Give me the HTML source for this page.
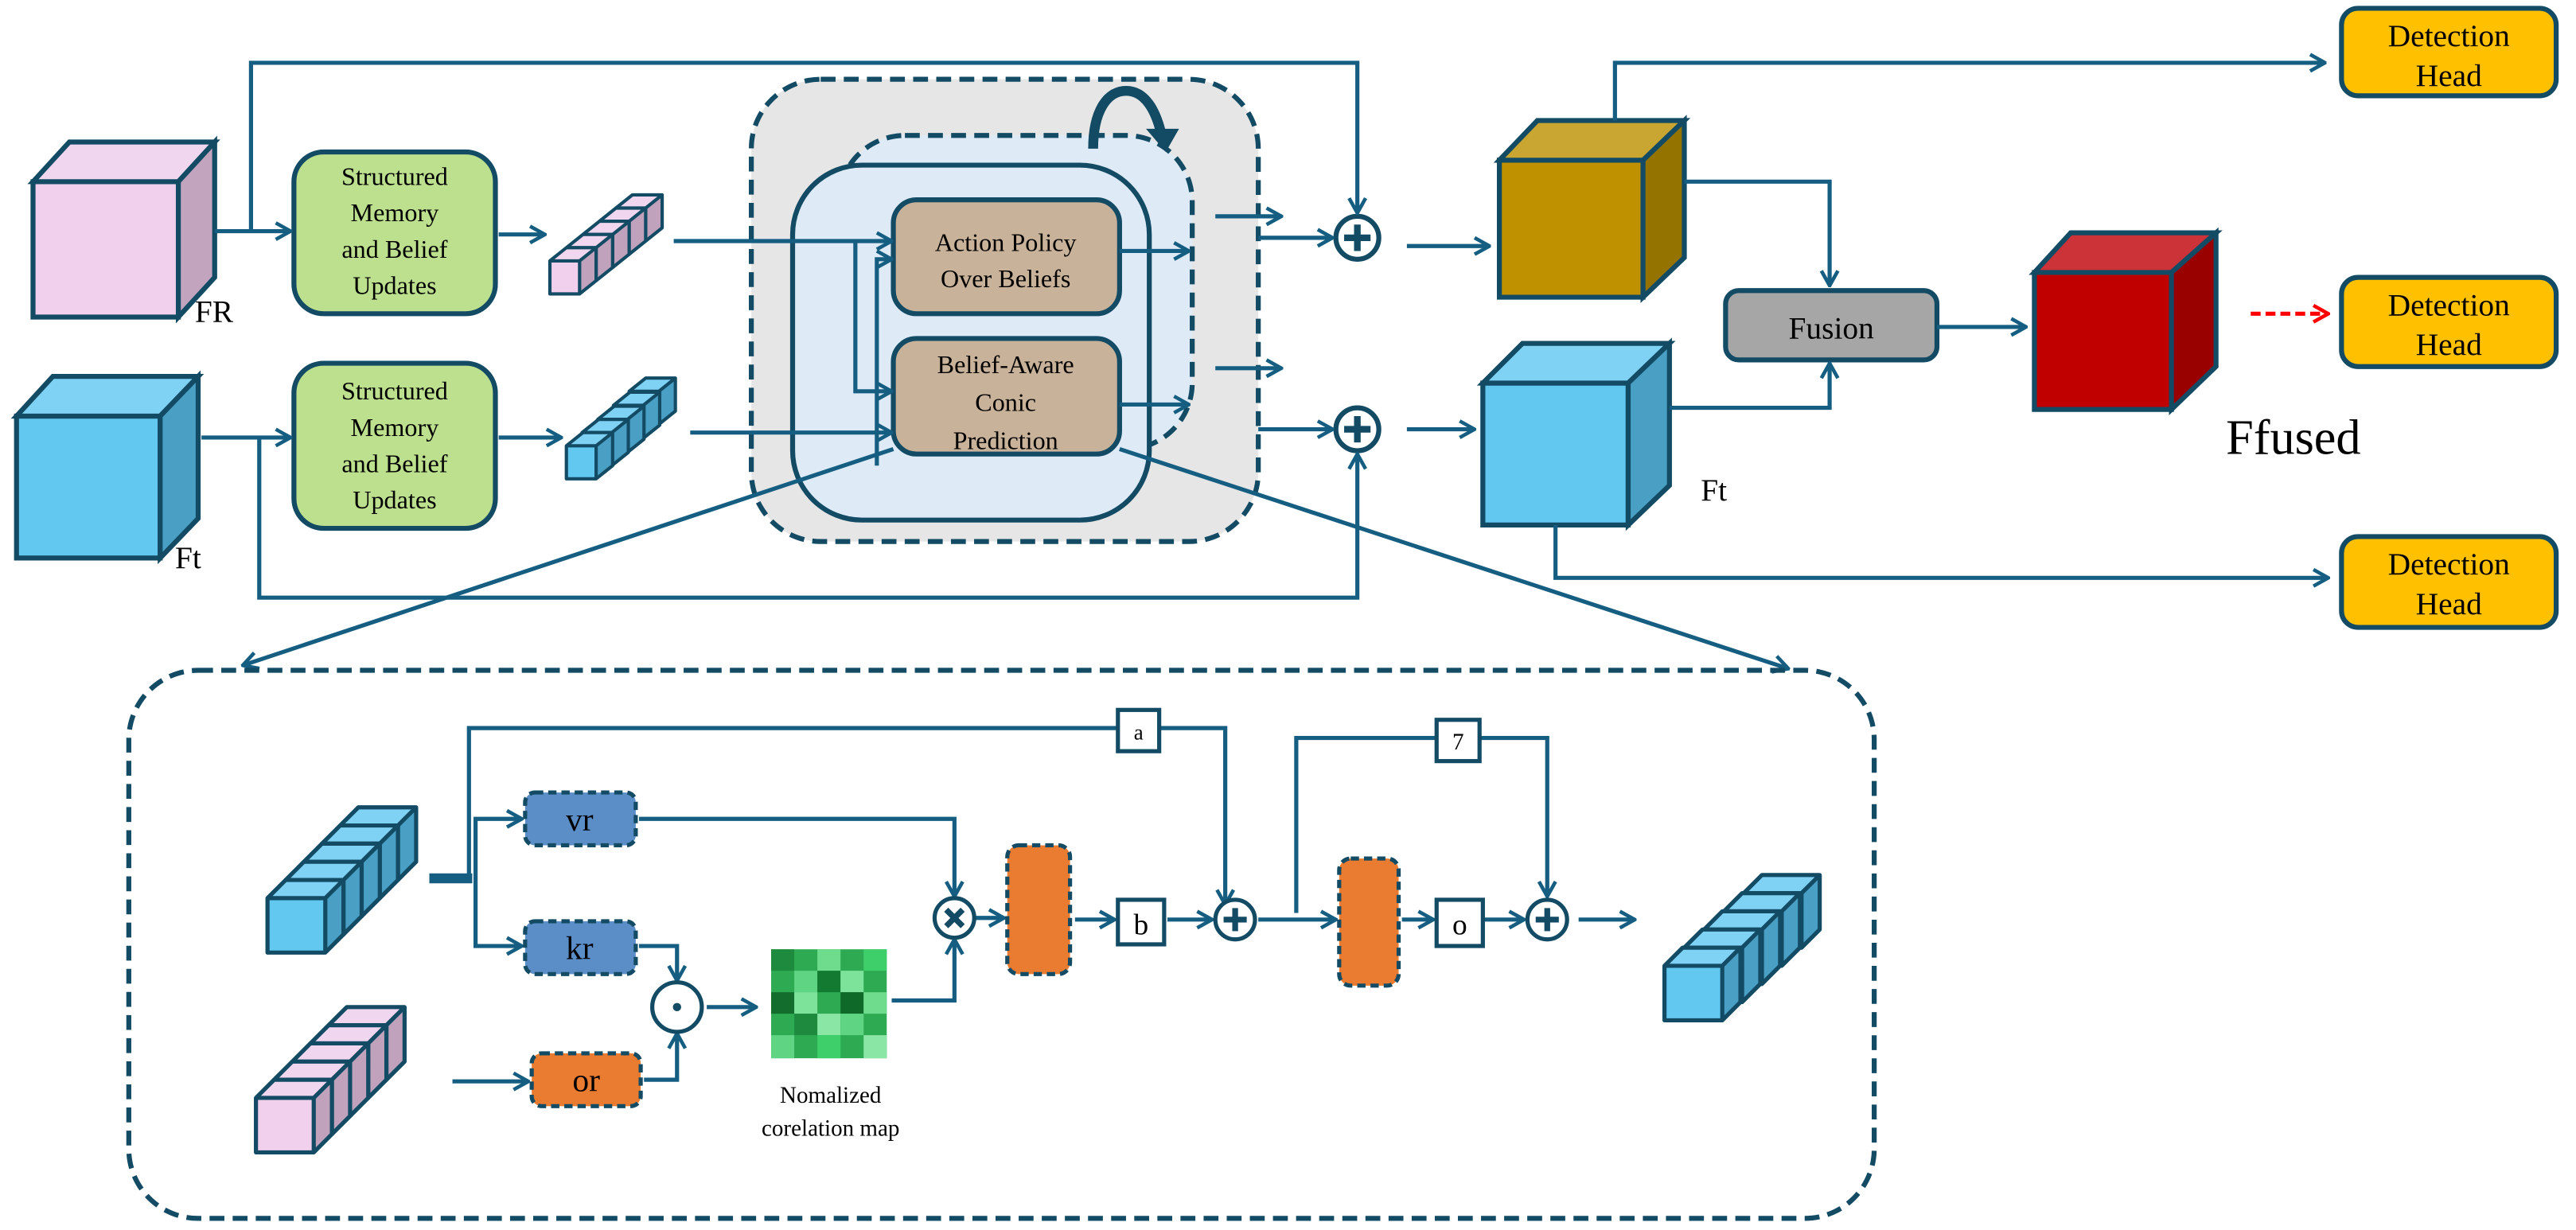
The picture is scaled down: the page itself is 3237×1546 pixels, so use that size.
<!DOCTYPE html>
<html><head><meta charset="utf-8"><style>
html,body{margin:0;padding:0;background:#fff}
svg{display:block}
text{font-family:"Liberation Serif","Times New Roman",serif;fill:#000}
</style></head><body>
<svg width="3237" height="1546" viewBox="0 0 1560 745" xmlns="http://www.w3.org/2000/svg" font-family="Liberation Serif, serif">
<defs>
<marker id="ar" viewBox="0 0 12 12" refX="11" refY="6" markerWidth="12" markerHeight="12" markerUnits="userSpaceOnUse" orient="auto">
<path d="M2,1 L11,6 L2,11" fill="none" stroke="#155e82" stroke-width="2.2"/></marker>
<marker id="arr" viewBox="0 0 12 12" refX="11" refY="6" markerWidth="12" markerHeight="12" markerUnits="userSpaceOnUse" orient="auto">
<path d="M2,1 L11,6 L2,11" fill="none" stroke="#f00" stroke-width="2.2"/></marker>
<g id="cb"><path d="M0,0 h35 v33 h-35z" fill="#62c8f0"/><path d="M0,0 l11,-11 h35 l-11,11z" fill="#80d2f4"/><path d="M35,0 l11,-11 v33 l-11,11z" fill="#4aa0c4"/><path d="M0,0 h35 v33 h-35z M0,0 l11,-11 h35 l-11,11 M35,33 l11,-11 v-33" fill="none" stroke="#134a64" stroke-width="2.5" stroke-linejoin="round"/></g>
<g id="cp"><path d="M0,0 h35 v33 h-35z" fill="#f0d0ec"/><path d="M0,0 l11,-11 h35 l-11,11z" fill="#f0d6ee"/><path d="M35,0 l11,-11 v33 l-11,11z" fill="#c0a2bd"/><path d="M0,0 h35 v33 h-35z M0,0 l11,-11 h35 l-11,11 M35,33 l11,-11 v-33" fill="none" stroke="#134a64" stroke-width="2.5" stroke-linejoin="round"/></g>
<g id="sb"><path d="M0,0 h18 v20 h-18z" fill="#62c8f0"/><path d="M0,0 l10,-8 h18 l-10,8z" fill="#80d2f4"/><path d="M18,0 l10,-8 v20 l-10,8z" fill="#4aa0c4"/><path d="M0,0 h18 v20 h-18z M0,0 l10,-8 h18 l-10,8 M18,20 l10,-8 v-20" fill="none" stroke="#134a64" stroke-width="2" stroke-linejoin="round"/></g>
<g id="sp"><path d="M0,0 h18 v20 h-18z" fill="#f0d0ec"/><path d="M0,0 l10,-8 h18 l-10,8z" fill="#f0d6ee"/><path d="M18,0 l10,-8 v20 l-10,8z" fill="#c0a2bd"/><path d="M0,0 h18 v20 h-18z M0,0 l10,-8 h18 l-10,8 M18,20 l10,-8 v-20" fill="none" stroke="#134a64" stroke-width="2" stroke-linejoin="round"/></g>
</defs>

<g stroke="#134a64" stroke-width="3" stroke-linejoin="miter">
<path d="M20,110 h88 v82 h-88z" fill="#f0d0ec"/><path d="M20,110 l22,-24 h88 l-22,24z" fill="#f0d6ee"/><path d="M108,110 l22,-24 v82 l-22,24z" fill="#c2a4be"/>
<path d="M10,252 h87 v86 h-87z" fill="#62c8f0"/><path d="M10,252 l22,-24 h88 l-23,24z" fill="#80d2f4"/><path d="M97,252 l23,-24 v86 l-23,24z" fill="#4aa0c4"/>
<path d="M908,97 h87 v83 h-87z" fill="#bf9000"/><path d="M908,97 l23,-24 h89 l-25,24z" fill="#c9a532"/><path d="M995,97 l25,-24 v83 l-25,24z" fill="#957300"/>
<path d="M898,232 h88 v86 h-88z" fill="#62c8f0"/><path d="M898,232 l24,-24 h89 l-25,24z" fill="#80d2f4"/><path d="M986,232 l25,-24 v86 l-25,24z" fill="#4aa0c4"/>
<path d="M1232,165 h83 v83 h-83z" fill="#c00000"/><path d="M1232,165 l22,-24 h88 l-27,24z" fill="#cc3338"/><path d="M1315,165 l27,-24 v81 l-27,26z" fill="#990000"/>
</g>
<text x="118" y="195" font-size="19">FR</text>
<text x="106" y="344" font-size="19">Ft</text>
<text x="1030" y="303" font-size="19">Ft</text>
<text x="1348" y="275" font-size="30">Ffused</text>

<g stroke="#134a64" stroke-width="3" fill="#bde08e">
<rect x="178" y="92" width="122" height="98" rx="18"/>
<rect x="178" y="220" width="122" height="100" rx="18"/>
</g>
<g font-size="15.5" text-anchor="middle">
<text x="239" y="112">Structured</text><text x="239" y="134">Memory</text><text x="239" y="156">and Belief</text><text x="239" y="178">Updates</text>
<text x="239" y="242">Structured</text><text x="239" y="264">Memory</text><text x="239" y="286">and Belief</text><text x="239" y="308">Updates</text>
</g>

<use href="#sp" x="373" y="126"/><use href="#sp" x="363" y="134"/><use href="#sp" x="353" y="142"/><use href="#sp" x="343" y="150"/><use href="#sp" x="333" y="158"/>
<use href="#sb" x="381" y="237"/><use href="#sb" x="371.5" y="245.5"/><use href="#sb" x="362" y="254"/><use href="#sb" x="352.5" y="262"/><use href="#sb" x="343" y="270"/>

<rect x="455" y="48" width="307" height="280" rx="42" fill="#e6e6e6" stroke="#134a64" stroke-width="3" stroke-dasharray="9,5"/>
<rect x="508" y="82" width="214" height="190" rx="40" fill="#deebf7" stroke="#134a64" stroke-width="3" stroke-dasharray="9,5"/>
<rect x="480" y="100" width="216" height="215" rx="42" fill="#deebf7" stroke="#134a64" stroke-width="3"/>
<path d="M662,90 C662,68 670,55 682,55 C694,55 700,68 703,80" fill="none" stroke="#134a64" stroke-width="6"/>
<path d="M694,78 L714,78 L706,92z" fill="#134a64"/>
<g stroke="#134a64" stroke-width="3" fill="#c9b29a">
<rect x="541" y="121" width="137" height="69" rx="14"/>
<rect x="541" y="205" width="137" height="70" rx="14"/>
</g>
<g font-size="15.5" text-anchor="middle">
<text x="609" y="152">Action Policy</text><text x="609" y="174">Over Beliefs</text>
<text x="609" y="226">Belief-Aware</text><text x="609" y="249">Conic</text><text x="609" y="272">Prediction</text>
</g>

<g stroke="#134a64" stroke-width="3" fill="#fff">
<circle cx="822" cy="144" r="13"/><circle cx="822" cy="260" r="13"/>
</g>
<g stroke="#134a64" stroke-width="4"><path d="M822,136v16M814,144h16M822,252v16M814,260h16"/></g>

<g stroke="#134a64" stroke-width="3">
<rect x="1418" y="5" width="130" height="53" rx="10" fill="#ffc000"/>
<rect x="1418" y="168" width="130" height="54" rx="10" fill="#ffc000"/>
<rect x="1418" y="325" width="130" height="55" rx="10" fill="#ffc000"/>
<rect x="1045" y="176" width="128" height="42" rx="8" fill="#a6a6a6"/>
</g>
<g font-size="19" text-anchor="middle" style="font-family:'Liberation Serif',serif">
<text x="1483" y="28" style="font-family:'Liberation Serif',serif">Detection</text><text x="1483" y="52" style="font-family:'Liberation Serif',serif">Head</text>
<text x="1483" y="191" style="font-family:'Liberation Serif',serif">Detection</text><text x="1483" y="215" style="font-family:'Liberation Serif',serif">Head</text>
<text x="1483" y="348" style="font-family:'Liberation Serif',serif">Detection</text><text x="1483" y="372" style="font-family:'Liberation Serif',serif">Head</text>
<text x="1109" y="205" style="font-family:'Liberation Serif',serif">Fusion</text>
</g>

<g fill="none" stroke="#155e82" stroke-width="2.5" marker-end="url(#ar)">
<path d="M130,140 H176"/>
<path d="M152,140 V38 H822 V129"/>
<path d="M122,265 H176"/>
<path d="M157,265 V362 H822 V275"/>
<path d="M302,142 H330"/>
<path d="M302,265 H340"/>
<path d="M408,146 H540"/>
<path d="M418,262 H540"/>
<path d="M518,146 V237 H540"/>
<path d="M531,282 V157 H540"/>
<path d="M678,152 H720"/>
<path d="M678,245 H720"/>
<path d="M736,131 H776"/>
<path d="M736,223 H776"/>
<path d="M762,144 H807"/>
<path d="M762,260 H807"/>
<path d="M852,149 H902"/>
<path d="M852,260 H893"/>
<path d="M978,73 V38 H1408"/>
<path d="M1020,110 H1108 V173"/>
<path d="M1011,247 H1108 V220"/>
<path d="M1173,198 H1227"/>
<path d="M942,318 V350 H1410"/>
<path d="M541,272 L147,403"/>
<path d="M678,272 L1083,405"/>
</g>
<path d="M1363,190 H1410" fill="none" stroke="#f00" stroke-width="2.5" stroke-dasharray="6,3" marker-end="url(#arr)"/>

<rect x="78" y="406" width="1057" height="332" rx="42" fill="none" stroke="#134a64" stroke-width="3" stroke-dasharray="9,5"/>

<use href="#cb" x="206" y="500"/><use href="#cb" x="195" y="511"/><use href="#cb" x="184" y="522"/><use href="#cb" x="173" y="533"/><use href="#cb" x="162" y="544"/>
<use href="#cp" x="199" y="621"/><use href="#cp" x="188" y="632"/><use href="#cp" x="177" y="643"/><use href="#cp" x="166" y="654"/><use href="#cp" x="155" y="665"/>
<use href="#cb" x="1056" y="541"/><use href="#cb" x="1044" y="552"/><use href="#cb" x="1032" y="563"/><use href="#cb" x="1020" y="574"/><use href="#cb" x="1008" y="585"/>

<path d="M260,532 H286" stroke="#155e82" stroke-width="6"/>
<g fill="none" stroke="#155e82" stroke-width="2.5">
<path d="M284,532 V441 H742 V548" marker-end="url(#ar)"/>
<path d="M288,532 V496 H316" marker-end="url(#ar)"/>
<path d="M288,532 V573 H316" marker-end="url(#ar)"/>
<path d="M387,496 H578 V543" marker-end="url(#ar)"/>
<path d="M387,573 H410 V594" marker-end="url(#ar)"/>
<path d="M274,655 H320" marker-end="url(#ar)"/>
<path d="M390,654 H410 V626" marker-end="url(#ar)"/>
<path d="M428,610 H458" marker-end="url(#ar)"/>
<path d="M540,606 H578 V569" marker-end="url(#ar)"/>
<path d="M591,556 H608" marker-end="url(#ar)"/>
<path d="M651,557 H675" marker-end="url(#ar)"/>
<path d="M707,557 H734" marker-end="url(#ar)"/>
<path d="M762,557 H809" marker-end="url(#ar)"/>
<path d="M785,553 V447 H937 V543" marker-end="url(#ar)"/>
<path d="M849,557 H868" marker-end="url(#ar)"/>
<path d="M899,557 H923" marker-end="url(#ar)"/>
<path d="M956,557 H990" marker-end="url(#ar)"/>
</g>
<g stroke="#134a64" stroke-width="2.5" fill="#fff">
<rect x="677" y="430" width="25" height="25"/>
<rect x="870" y="436" width="26" height="25"/>
<rect x="677" y="545" width="28" height="27"/>
<rect x="870" y="545" width="28" height="28"/>
<circle cx="578" cy="556" r="12"/><circle cx="748" cy="557" r="12"/><circle cx="937" cy="557" r="12"/>
<circle cx="410" cy="610" r="15"/>
</g>
<circle cx="410" cy="610" r="2.5" fill="#134a64"/>
<g stroke="#134a64" stroke-width="3.5"><path d="M748,550v14M741,557h14M937,550v14M930,557h14M573,551l10,10M583,551l-10,10"/></g>
<g text-anchor="middle">
<text x="689.5" y="448" font-size="13">a</text><text x="883" y="454" font-size="14">7</text>
<text x="691" y="566" font-size="18">b</text><text x="884" y="566" font-size="18">o</text>
</g>
<g stroke="#134a64" stroke-width="2.5" stroke-dasharray="5,3">
<rect x="318" y="480" width="67" height="32" rx="6" fill="#5b8ec7"/>
<rect x="318" y="558" width="67" height="32" rx="6" fill="#5b8ec7"/>
<rect x="322" y="638" width="66" height="32" rx="6" fill="#e97c30"/>
<rect x="610" y="512" width="38" height="78" rx="7" fill="#e97c30"/>
<rect x="811" y="520" width="36" height="77" rx="7" fill="#e97c30"/>
</g>
<g font-size="20" text-anchor="middle"><text x="351" y="503">vr</text><text x="351" y="581">kr</text><text x="355" y="661">or</text></g>
<g>
<rect x="467" y="575" width="70" height="66" fill="#2eaa52"/>
<rect x="467" y="575" width="14" height="13" fill="#1e8a3e"/><rect x="495" y="575" width="14" height="13" fill="#6edc8c"/><rect x="523" y="575" width="14" height="13" fill="#3fcf6a"/>
<rect x="481" y="588" width="14" height="13" fill="#5fd483"/><rect x="495" y="588" width="14" height="13" fill="#137a32"/><rect x="509" y="588" width="14" height="13" fill="#7de39a"/>
<rect x="467" y="601" width="14" height="13" fill="#136e2e"/><rect x="481" y="601" width="14" height="13" fill="#7de39a"/><rect x="509" y="601" width="14" height="13" fill="#0f6a2a"/><rect x="523" y="601" width="14" height="13" fill="#6edc8c"/>
<rect x="481" y="614" width="14" height="13" fill="#1e8a3e"/><rect x="495" y="614" width="14" height="13" fill="#8ae6a4"/><rect x="509" y="614" width="14" height="13" fill="#5fd483"/>
<rect x="467" y="627" width="14" height="14" fill="#5fd483"/><rect x="495" y="627" width="14" height="14" fill="#3fcf6a"/><rect x="523" y="627" width="14" height="14" fill="#8ae6a4"/>
</g>
<text x="503" y="668" font-size="14" text-anchor="middle">Nomalized</text>
<text x="503" y="688" font-size="14" text-anchor="middle">corelation map</text>
</svg>
</body></html>
